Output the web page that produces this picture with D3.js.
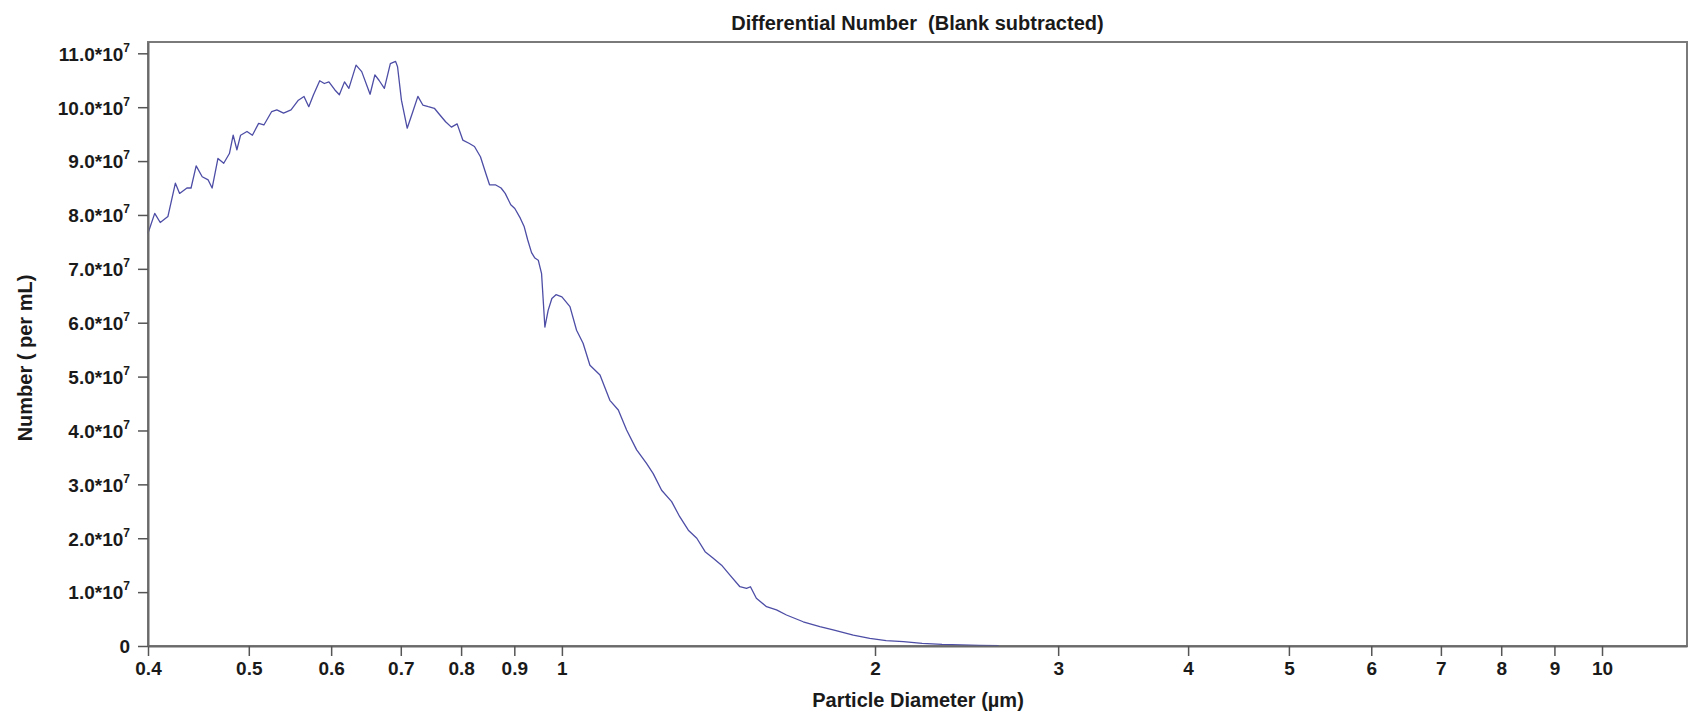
<!DOCTYPE html>
<html>
<head>
<meta charset="utf-8">
<script src="https://cdn.jsdelivr.net/npm/d3@7"></script>
<style>
  html, body { margin: 0; padding: 0; background: #fff; }
  svg { display: block; }
  text { font-family: "Liberation Sans", Arial, sans-serif; font-weight: bold; fill: #1a1a1a; }
</style>
</head>
<body>
<svg id="chart" width="1688" height="712"></svg>
<script>
// ---- data ----
const diameters = [
  0.400,0.406,0.411,0.418,0.425,0.429,0.436,0.440,0.445,0.451,0.457,0.461,0.467,0.473,0.479,0.483,
  0.487,0.491,0.498,0.504,0.511,0.517,0.526,0.532,0.540,0.549,0.558,0.565,0.571,0.577,0.585,0.591,
  0.597,0.605,0.611,0.618,0.624,0.634,0.642,0.654,0.661,0.667,0.675,0.684,0.692,0.695,0.701,0.710,
  0.719,0.727,0.735,0.744,0.754,0.763,0.773,0.783,0.793,0.803,0.814,0.824,0.835,0.845,0.852,0.863,
  0.874,0.882,0.893,0.901,0.912,0.920,0.927,0.935,0.942,0.949,0.956,0.963,0.970,0.978,0.987,1.000,
  1.018,1.033,1.048,1.064,1.088,1.112,1.133,1.154,1.180,1.206,1.224,1.247,1.275,1.298,1.323,1.348,
  1.373,1.398,1.424,1.450,1.483,1.505,1.518,1.538,1.573,1.608,1.644,1.706,1.770,1.823,1.906,1.977,
  2.05,2.13,2.22,2.32,2.42,2.52,2.63
];
// number per mL, in units of 10^7
const countsE7 = [
  7.66,8.03,7.86,7.97,8.59,8.40,8.50,8.50,8.91,8.71,8.65,8.50,9.05,8.96,9.14,9.48,
  9.21,9.48,9.55,9.48,9.70,9.67,9.92,9.95,9.89,9.95,10.13,10.20,10.01,10.23,10.49,10.44,
  10.47,10.32,10.23,10.47,10.35,10.78,10.66,10.24,10.60,10.50,10.35,10.81,10.85,10.75,10.13,9.61,
  9.92,10.20,10.04,10.01,9.98,9.86,9.73,9.63,9.69,9.39,9.33,9.27,9.08,8.77,8.56,8.56,
  8.50,8.40,8.19,8.12,7.94,7.78,7.54,7.30,7.20,7.16,6.91,5.92,6.23,6.45,6.52,6.48,
  6.30,5.86,5.62,5.21,5.03,4.56,4.38,4.01,3.64,3.39,3.20,2.89,2.68,2.40,2.15,2.00,
  1.75,1.63,1.50,1.32,1.10,1.07,1.10,0.885,0.73,0.67,0.575,0.45,0.36,0.30,0.20,0.14,
  0.10,0.08,0.05,0.03,0.02,0.01,0.005
];
const xTickValues = [0.4,0.5,0.6,0.7,0.8,0.9,1,2,3,4,5,6,7,8,9,10];
const xTickLabels = ["0.4","0.5","0.6","0.7","0.8","0.9","1","2","3","4","5","6","7","8","9","10"];
const yTickValuesE7 = [0,1,2,3,4,5,6,7,8,9,10,11];
const yTickMantissas = ["0","1.0","2.0","3.0","4.0","5.0","6.0","7.0","8.0","9.0","10.0","11.0"];
const titleText = "Differential Number  (Blank subtracted)";
const xTitle = "Particle Diameter (\u00b5m)";
const yTitle = "Number ( per mL)";

// ---- layout ----
const plotLeft = 148, plotRight = 1687, plotTop = 42, plotBottom = 646;
const svg = d3.select("#chart");

const x = d3.scaleLog().domain([0.4, 12.07]).range([plotLeft, plotRight]);
const y = d3.scaleLinear().domain([0, 11.21e7]).range([plotBottom, plotTop]);

const points = diameters.map((d, i) => ({ d: d, v: countsE7[i] * 1e7 }));

// frame
svg.append("rect")
  .attr("x", plotLeft).attr("y", plotTop)
  .attr("width", plotRight - plotLeft).attr("height", plotBottom - plotTop)
  .attr("fill", "none").attr("stroke", "#7a7a7a").attr("stroke-width", 2);

// curve
const line = d3.line().x(p => x(p.d)).y(p => y(p.v));
svg.append("path")
  .datum(points)
  .attr("d", line)
  .attr("fill", "none")
  .attr("stroke", "#4d4da6")
  .attr("stroke-width", 1.3)
  .attr("stroke-linejoin", "round");

// x axis
const xAxis = d3.axisBottom(x)
  .tickValues(xTickValues)
  .tickFormat((d, i) => xTickLabels[i])
  .tickSize(10).tickSizeOuter(0).tickPadding(6);
const gx = svg.append("g").attr("transform", `translate(0,${plotBottom})`).call(xAxis);
gx.select(".domain").attr("stroke", "#6a6a6a").attr("stroke-width", 2);
gx.selectAll(".tick line").attr("stroke", "#555").attr("stroke-width", 1.5);
gx.selectAll(".tick text").attr("font-size", 19).attr("fill", "#1a1a1a")
  .attr("y", 16).attr("dy", "0.71em");

// y axis
const yAxis = d3.axisLeft(y)
  .tickValues(yTickValuesE7.map(v => v * 1e7))
  .tickFormat("")
  .tickSize(10).tickSizeOuter(0);
const gy = svg.append("g").attr("transform", `translate(${plotLeft},0)`).call(yAxis);
gy.select(".domain").attr("stroke", "#6a6a6a").attr("stroke-width", 2);
gy.selectAll(".tick line").attr("stroke", "#555").attr("stroke-width", 1.5);
gy.selectAll(".tick").each(function(d, i) {
  const t = d3.select(this).append("text")
    .attr("x", -18).attr("dy", "0.36em")
    .attr("text-anchor", "end")
    .attr("font-size", 19);
  if (i === 0) {
    t.text(yTickMantissas[i]);
  } else {
    t.append("tspan").text(yTickMantissas[i] + "*10");
    t.append("tspan").attr("font-size", 12).attr("dy", "-0.75em").text("7");
  }
});

// titles
svg.append("text")
  .attr("x", (plotLeft + plotRight) / 2).attr("y", 30)
  .attr("text-anchor", "middle").attr("font-size", 20)
  .style("white-space", "pre")
  .text(titleText);

svg.append("text")
  .attr("x", 918).attr("y", 707)
  .attr("text-anchor", "middle").attr("font-size", 20)
  .text(xTitle);

svg.append("text")
  .attr("transform", "translate(32,358) rotate(-90)")
  .attr("text-anchor", "middle").attr("font-size", 20)
  .style("white-space", "pre")
  .text(yTitle);
</script>
</body>
</html>
